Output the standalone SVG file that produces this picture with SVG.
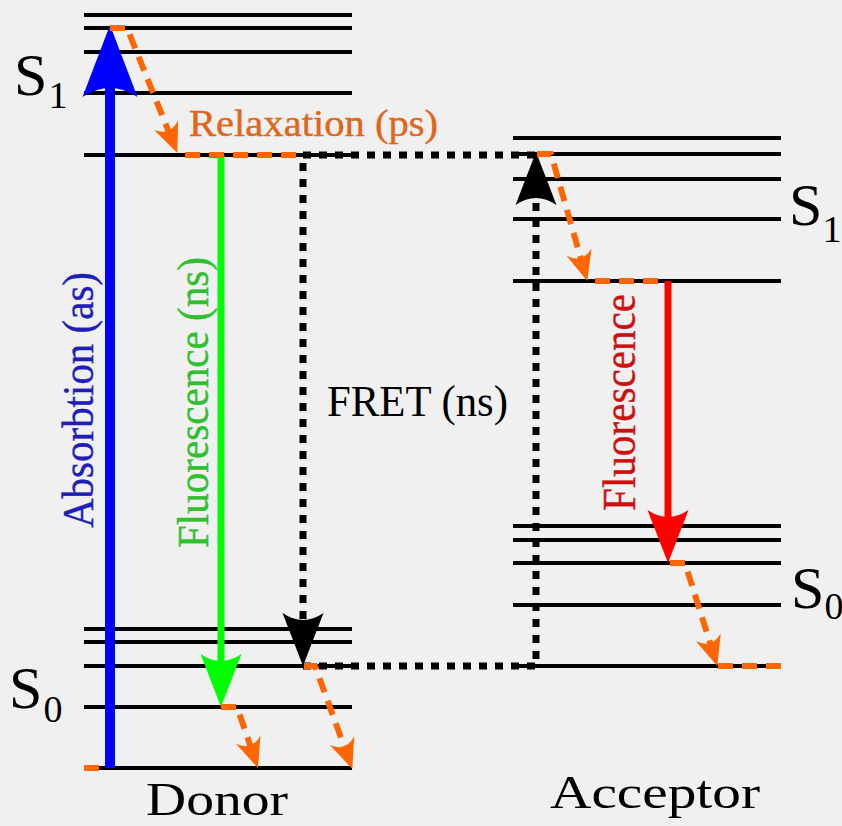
<svg xmlns="http://www.w3.org/2000/svg" width="842" height="826" viewBox="0 0 842 826">
<style>
.lvl{stroke:#000;stroke-width:4;fill:none}
.txt{font-family:"Liberation Serif","Times New Roman",serif}
.dot{stroke:#000;stroke-width:7;stroke-dasharray:8 8;fill:none}
.orn{stroke:#ff6600;stroke-width:6;stroke-dasharray:15 9;fill:none}
</style>
<defs>
<marker id="hBlue" markerUnits="userSpaceOnUse" viewBox="0 -30 80 60" markerWidth="80" markerHeight="60" refX="12" refY="0" orient="auto">
<path d="M72,0 L0,-27.5 Q18,0 0,27.5 Z" fill="#0000ff"/>
</marker>
<marker id="hGreen" markerUnits="userSpaceOnUse" viewBox="0 -30 80 60" markerWidth="80" markerHeight="60" refX="10" refY="0" orient="auto">
<path d="M53,0 L0,-20.5 Q14,0 0,20.5 Z" fill="#00ff00"/>
</marker>
<marker id="hRed" markerUnits="userSpaceOnUse" viewBox="0 -30 80 60" markerWidth="80" markerHeight="60" refX="10" refY="0" orient="auto">
<path d="M53,0 L0,-20.5 Q14,0 0,20.5 Z" fill="#ff0000"/>
</marker>
<marker id="hBlack" markerUnits="userSpaceOnUse" viewBox="0 -30 80 60" markerWidth="80" markerHeight="60" refX="10" refY="0" orient="auto">
<path d="M53,0 L0,-20.5 Q14,0 0,20.5 Z" fill="#000"/>
</marker>
<marker id="hOrange" markerUnits="userSpaceOnUse" viewBox="0 -30 80 60" markerWidth="80" markerHeight="60" refX="8" refY="0" orient="auto">
<path d="M30,0 L0,-13 Q12,0 0,13 Z" fill="#ff6600"/>
</marker>
</defs>
<rect width="842" height="826" fill="#f0f0f0"/>

<g id="donor">
<path class="lvl" d="M84,15H352M84,28H352M84,52H352M84,93H352M84,155H352M84,629H352M84,642H352M84,666H352M84,707H352M84,768H352"/>
<text class="txt" x="14" y="95" font-size="60">S<tspan font-size="38" dx="1" dy="13">1</tspan></text>
<text class="txt" x="9" y="708" font-size="60">S<tspan font-size="38" dx="1" dy="14">0</tspan></text>
<text class="txt" x="146" y="815" font-size="46" textLength="142" lengthAdjust="spacingAndGlyphs">Donor</text>
</g>

<g id="acceptor">
<path class="lvl" d="M513,138H781M513,154H781M513,179H781M513,219H781M513,281H781M513,526H781M513,540H781M513,563H781M513,605H781M513,666H781"/>
<text class="txt" x="789" y="225" font-size="60">S<tspan font-size="38" dx="0" dy="17">1</tspan></text>
<text class="txt" x="791" y="608" font-size="60">S<tspan font-size="38" dx="0" dy="11">0</tspan></text>
<text class="txt" x="550" y="808" font-size="46" textLength="210" lengthAdjust="spacingAndGlyphs">Acceptor</text>
</g>

<g id="connectors">
<path class="dot" d="M535,155H303V623" marker-end="url(#hBlack)"/>
<path class="dot" d="M303,666H536V195" marker-end="url(#hBlack)"/>
<path d="M221,155V664" stroke="#00ff00" stroke-width="7" fill="none" marker-end="url(#hGreen)"/>
<path d="M668,281V520" stroke="#ff0000" stroke-width="7" fill="none" marker-end="url(#hRed)"/>
<path d="M110,768V85" stroke="#0000ff" stroke-width="10" fill="none" marker-end="url(#hBlue)"/>
<path class="orn" d="M110,28H127L169.1,132.5" marker-end="url(#hOrange)"/>
<path class="orn" d="M537,154H551L581.2,259.8" marker-end="url(#hOrange)"/>
<path class="orn" d="M670,563H685L710.7,645" marker-end="url(#hOrange)"/>
<path class="orn" d="M221,707H237L250.8,747.2" marker-end="url(#hOrange)"/>
<path class="orn" d="M304,666H315L344.8,748.2" marker-end="url(#hOrange)"/>
<path class="orn" d="M185,155H297M595,281H659M718,666H782M84,768H103"/>
</g>

<g id="labels">
<text class="txt" x="189" y="136" font-size="37" fill="#e0661a" stroke="#e0661a" stroke-width="0.4" textLength="249" lengthAdjust="spacingAndGlyphs">Relaxation (ps)</text>
<text class="txt" x="327" y="416" font-size="44" fill="#000" textLength="181" lengthAdjust="spacingAndGlyphs">FRET (ns)</text>
<text class="txt" transform="translate(93,528) rotate(-90)" font-size="44" fill="#1f1fb8" stroke="#1f1fb8" stroke-width="0.4" textLength="256" lengthAdjust="spacingAndGlyphs">Absorbtion (as)</text>
<text class="txt" transform="translate(208,548) rotate(-90)" font-size="45" fill="#2fbf2f" stroke="#2fbf2f" stroke-width="0.4" textLength="291" lengthAdjust="spacingAndGlyphs">Fluorescence (ns)</text>
<text class="txt" transform="translate(635,511) rotate(-90)" font-size="46" fill="#cc1010" stroke="#cc1010" stroke-width="0.4" textLength="217" lengthAdjust="spacingAndGlyphs">Fluorescence</text>
</g>
</svg>
